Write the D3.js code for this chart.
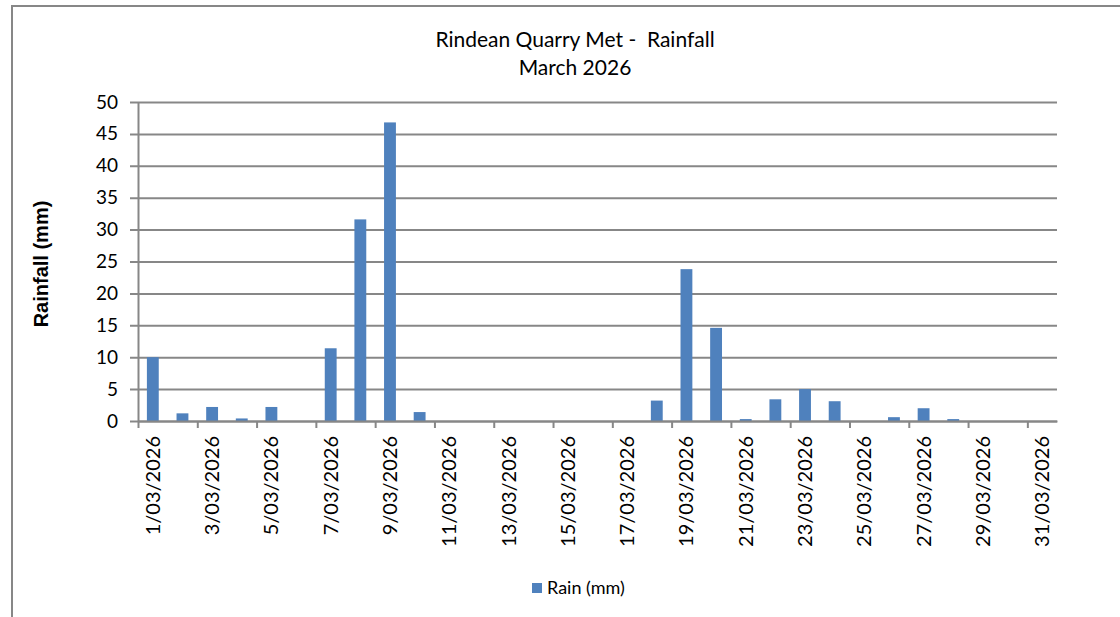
<!DOCTYPE html>
<html lang="en">
<head>
    <meta charset="UTF-8">
    <title>Rindean Quarry Met - Rainfall</title>
    <style>
        body { margin: 0; background: #fff; }
        svg { display: block; }
        text { font-family: Lato, "Open Sans", sans-serif; fill: #000; white-space: pre; }
    </style>
</head>
<body>

    <div id="graphique"></div>

    <script src="https://d3js.org/d3.v7.min.js"></script>

    <script>

// data
let days = [
    '1/03/2026', '2/03/2026', '3/03/2026', '4/03/2026', '5/03/2026',
    '6/03/2026', '7/03/2026', '8/03/2026', '9/03/2026', '10/03/2026',
    '11/03/2026', '12/03/2026', '13/03/2026', '14/03/2026', '15/03/2026',
    '16/03/2026', '17/03/2026', '18/03/2026', '19/03/2026', '20/03/2026',
    '21/03/2026', '22/03/2026', '23/03/2026', '24/03/2026', '25/03/2026',
    '26/03/2026', '27/03/2026', '28/03/2026', '29/03/2026', '30/03/2026',
    '31/03/2026'
]

let rain = [
    10.0, 1.2, 2.2, 0.4, 2.2,
    0, 11.4, 31.6, 46.8, 1.4,
    0, 0, 0, 0, 0,
    0, 0, 3.2, 23.8, 14.6,
    0.3, 3.4, 5.0, 3.1, 0,
    0.6, 2.0, 0.3, 0, 0,
    0
]

let yTicks = [0, 5, 10, 15, 20, 25, 30, 35, 40, 45, 50]

let titleLines = ['Rindean Quarry Met -  Rainfall', 'March 2026']
let seriesName = 'Rain (mm)'
let yTitle = 'Rainfall (mm)'

let data = days.map(function(d, i){ return { day: d, value: rain[i] } })

let margin = { top: 102, right: 63, bottom: 196, left: 138 },
    width  = 1120 - margin.left - margin.right,
    height = 617 - margin.top - margin.bottom

let grey = '#878787'
let blue = '#4F81BD'

let root = d3.select('#graphique')
             .append('svg')
             .attr('width', 1120)
             .attr('height', 617)

// chart frame
root.append('path')
    .attr('d', 'M12,617 L12,6 L1120,6')
    .attr('fill', 'none')
    .attr('stroke', grey)
    .attr('stroke-width', 2)

// title
root.append('g')
    .selectAll('text')
    .data(titleLines)
    .enter()
    .append('text')
    .attr('x', 575)
    .attr('y', function(d, i){ return 47 + i * 28 })
    .attr('text-anchor', 'middle')
    .style('font-size', '21px')
    .text(function(d){ return d })

let svg = root.append('g')
              .attr('transform', `translate(${margin.left}, ${margin.top})`)

// scales
let x = d3.scaleBand()
          .domain(days)
          .range([0, width])
          .paddingInner(0.6)
          .paddingOuter(0.3)

let xEdge = d3.scaleLinear()
              .domain([0, days.length])
              .range([0, width])

let y = d3.scaleLinear()
          .domain([0, 50])
          .range([height, 0])

// Y axis + gridlines
let axeY = d3.axisLeft(y)
             .tickValues(yTicks)
             .tickSize(-width)
             .tickSizeOuter(0)
             .tickPadding(20)

let gY = svg.append('g').call(axeY)
gY.select('.domain').attr('stroke', grey).attr('stroke-width', 2)
gY.selectAll('.tick line')
  .attr('x1', -8)
  .attr('stroke', grey)
  .attr('stroke-width', 2)
gY.selectAll('.tick text')
  .style('font-size', '19px')
  .attr('fill', '#000')

// bars
svg.selectAll('rect.bar')
   .data(data)
   .enter()
   .append('rect')
   .attr('class', 'bar')
   .attr('x', function(d){ return x(d.day) })
   .attr('width', x.bandwidth())
   .attr('y', function(d){ return y(d.value) })
   .attr('height', function(d){ return height - y(d.value) })
   .attr('fill', blue)

// X axis: tick marks on category edges, every 2
let axeXTicks = d3.axisBottom(xEdge)
                  .tickValues(d3.range(0, days.length, 2))
                  .tickFormat('')
                  .tickSize(7)
                  .tickSizeOuter(0)

let gX = svg.append('g')
            .attr('transform', `translate(0, ${height})`)
            .call(axeXTicks)
gX.select('.domain').attr('stroke', grey).attr('stroke-width', 2)
gX.selectAll('.tick line').attr('stroke', grey).attr('stroke-width', 2)

// X labels, centred on every other day
let axeXLabels = d3.axisBottom(x)
                   .tickValues(days.filter(function(d, i){ return i % 2 === 0 }))
                   .tickSize(0)

let gXL = svg.append('g')
             .attr('transform', `translate(0, ${height})`)
             .call(axeXLabels)
gXL.select('.domain').remove()
gXL.selectAll('text')
   .style('font-size', '20px')
   .attr('fill', '#000')
   .attr('transform', 'rotate(-90)')
   .attr('text-anchor', 'end')
   .attr('x', -15)
   .attr('y', 0)
   .attr('dy', '0.35em')

// Y title
root.append('text')
    .attr('transform', 'translate(48, 264) rotate(-90)')
    .attr('text-anchor', 'middle')
    .style('font-family', '"Liberation Sans", Arial, sans-serif')
    .style('font-weight', 'bold')
    .style('font-size', '20px')
    .text(yTitle)

// legend
let legend = root.append('g')
                 .attr('transform', 'translate(532, 583)')
legend.append('rect')
      .attr('width', 10)
      .attr('height', 10)
      .attr('fill', blue)
legend.append('text')
      .attr('x', 15)
      .attr('y', 11)
      .style('font-size', '18px')
      .text(seriesName)

    </script>
</body>
</html>
